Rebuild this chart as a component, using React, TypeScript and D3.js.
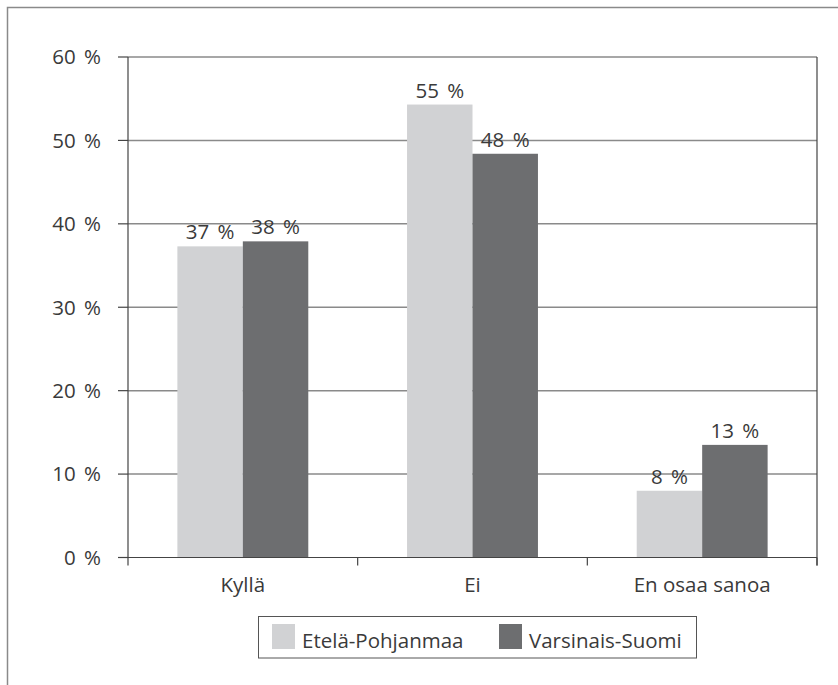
import React from "react";
import * as d3 from "d3";

const categories = ["Kyllä", "Ei", "En osaa sanoa"];
const seriesNames = ["Etelä-Pohjanmaa", "Varsinais-Suomi"];
const etelaPohjanmaa = [37.3, 54.3, 8.0];
const varsinaisSuomi = [37.9, 48.4, 13.5];
const labelsEP = ["37 %", "55 %", "8 %"];
const labelsVS = ["38 %", "48 %", "13 %"];
const yTicks = [0, 10, 20, 30, 40, 50, 60];
const colors = ["#d1d2d4", "#6d6e70"];

const W = 838;
const H = 685;
const left = 128;
const right = 817;
const top = 57;
const bottom = 557.5;
const FONT = "'Open Sans', 'Noto Sans', sans-serif";
const FS = 20.5;
const TXT = "#3a3a3a";

export default function App() {
  const x = d3
    .scaleBand<string>()
    .domain(categories)
    .range([left, right])
    .paddingInner(0.43)
    .paddingOuter(0.215);
  const xs = d3
    .scaleBand<string>()
    .domain(seriesNames)
    .range([0, x.bandwidth()]);
  const y = d3.scaleLinear().domain([0, 60]).range([bottom, top]);
  const series = [etelaPohjanmaa, varsinaisSuomi];
  const labels = [labelsEP, labelsVS];
  const step = x.step();
  const boundaries = d3.range(categories.length + 1).map((i) => left + i * step);

  return (
    <svg width={W} height={H} style={{ display: "block", position: "absolute", left: 0, top: 0 }}>
      <rect x={0} y={0} width={W} height={H} fill="#fff" />
      <rect x={7.5} y={7.5} width={W + 20} height={H + 20} fill="none" stroke="#8a8a8a" strokeWidth={1.5} />
      {yTicks.slice(1).map((t) => (
        <line key={"g" + t} x1={left} x2={right} y1={y(t)} y2={y(t)} stroke="#8a8a8a" strokeWidth={1.5} />
      ))}
      {series.map((vals, si) =>
        categories.map((c, ci) => (
          <rect
            key={"b" + si + ci}
            x={(x(c) as number) + (xs(seriesNames[si]) as number)}
            y={y(vals[ci])}
            width={xs.bandwidth()}
            height={bottom - y(vals[ci])}
            fill={colors[si]}
          />
        ))
      )}
      <line x1={left} x2={left} y1={top} y2={bottom} stroke="#444" strokeWidth={1.2} />
      <line x1={right} x2={right} y1={top} y2={bottom + 8} stroke="#444" strokeWidth={1.2} />
      {yTicks.map((t) => (
        <g key={"t" + t}>
          <line x1={left - 10} x2={left} y1={y(t)} y2={y(t)} stroke="#444" strokeWidth={1.2} />
          <text x={101} y={y(t)} dy="0.36em" textAnchor="end" fontFamily={FONT} fontSize={FS} fill={TXT} wordSpacing={3}>
            {t} %
          </text>
        </g>
      ))}
      <line x1={left} x2={right} y1={bottom} y2={bottom} stroke="#444" strokeWidth={1.2} />
      {boundaries.map((b, i) => (
        <line key={"xt" + i} x1={b} x2={b} y1={bottom} y2={bottom + 8} stroke="#444" strokeWidth={1.2} />
      ))}
      {categories.map((c) => (
        <text
          key={"c" + c}
          x={(x(c) as number) + x.bandwidth() / 2}
          y={592}
          textAnchor="middle"
          fontFamily={FONT}
          fontSize={FS}
          fill={TXT}
        >
          {c}
        </text>
      ))}
      {series.map((vals, si) =>
        categories.map((c, ci) => (
          <text
            key={"l" + si + ci}
            x={(x(c) as number) + (xs(seriesNames[si]) as number) + xs.bandwidth() / 2}
            y={y(vals[ci]) - 7}
            textAnchor="middle"
            fontFamily={FONT}
            fontSize={FS}
            fill={TXT}
            wordSpacing={3}
          >
            {labels[si][ci]}
          </text>
        ))
      )}
      <rect x={258.5} y={616.5} width={438} height={41.5} fill="#fff" stroke="#555" strokeWidth={1} />
      {seriesNames.map((s, i) => {
        const sx = i === 0 ? 272 : 499;
        return (
          <g key={"lg" + s}>
            <rect x={sx} y={624} width={23} height={25} fill={colors[i]} />
            <text x={sx + 30} y={648} fontFamily={FONT} fontSize={FS} fill={TXT}>
              {s}
            </text>
          </g>
        );
      })}
    </svg>
  );
}
